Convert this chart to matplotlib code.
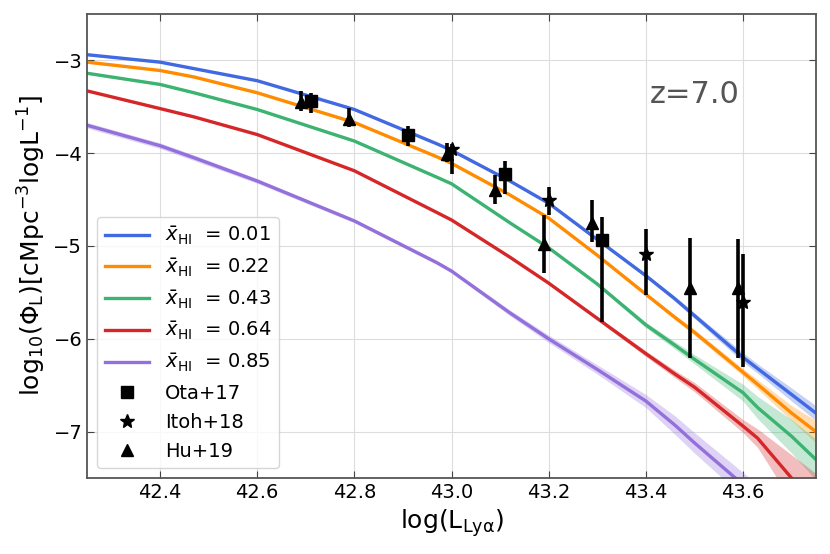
import numpy as np
import matplotlib
matplotlib.use('Agg')
import matplotlib.pyplot as plt

# model grid (log L_Lya) shared by all curves
logL_model = [42.25, 42.4, 42.47, 42.6, 42.8, 42.97, 43.0, 43.12, 43.2, 43.3,
              43.4, 43.46, 43.5, 43.6, 43.63, 43.7, 43.75]

# log10 Phi for each neutral fraction
phi_001 = [-2.94, -3.02, -3.09, -3.22, -3.53, -3.90, -3.97, -4.30, -4.54, -4.93,
           -5.32, -5.57, -5.75, -6.20, -6.32, -6.60, -6.80]
phi_022 = [-3.02, -3.11, -3.18, -3.35, -3.67, -4.04, -4.11, -4.45, -4.70, -5.10,
           -5.52, -5.77, -5.93, -6.36, -6.49, -6.80, -7.00]
phi_043 = [-3.14, -3.26, -3.35, -3.53, -3.87, -4.26, -4.33, -4.75, -5.02, -5.41,
           -5.85, -6.07, -6.22, -6.58, -6.74, -7.05, -7.30]
phi_064 = [-3.33, -3.52, -3.61, -3.80, -4.19, -4.64, -4.72, -5.12, -5.40, -5.78,
           -6.16, -6.38, -6.52, -6.94, -7.07, -7.50, -7.80]
phi_085 = [-3.70, -3.92, -4.05, -4.30, -4.73, -5.18, -5.27, -5.72, -6.00, -6.33,
           -6.67, -6.93, -7.12, -7.57, -7.70, -8.00, -8.20]

# half width of the shaded scatter band
band_001 = [0.01, 0.01, 0.01, 0.01, 0.01, 0.01, 0.01, 0.01, 0.01, 0.015,
            0.02, 0.025, 0.03, 0.05, 0.05, 0.07, 0.08]
band_022 = [0.01, 0.01, 0.01, 0.01, 0.01, 0.01, 0.01, 0.01, 0.01, 0.015,
            0.02, 0.025, 0.03, 0.04, 0.05, 0.08, 0.12]
band_043 = [0.01, 0.01, 0.01, 0.01, 0.01, 0.01, 0.01, 0.015, 0.015, 0.02,
            0.03, 0.04, 0.05, 0.09, 0.12, 0.18, 0.22]
band_064 = [0.01, 0.01, 0.01, 0.01, 0.01, 0.01, 0.01, 0.015, 0.015, 0.02,
            0.03, 0.04, 0.05, 0.07, 0.10, 0.25, 0.35]
band_085 = [0.03, 0.03, 0.03, 0.025, 0.02, 0.02, 0.02, 0.03, 0.04, 0.05,
            0.07, 0.10, 0.11, 0.13, 0.13, 0.13, 0.13]

xhi_labels = ['0.01', '0.22', '0.43', '0.64', '0.85']
colors = ['royalblue', 'darkorange', 'mediumseagreen', '#d62728', 'mediumpurple']

# observations: x, y, lower bound, upper bound
ota_x = [42.71, 42.91, 43.11, 43.31]
ota_y = [-3.44, -3.80, -4.23, -4.94]
ota_lo = [-3.57, -3.92, -4.44, -5.82]
ota_hi = [-3.35, -3.71, -4.08, -4.69]

itoh_x = [43.0, 43.2, 43.4, 43.6]
itoh_y = [-3.96, -4.51, -5.09, -5.60]
itoh_lo = [-4.23, -4.67, -5.53, -6.30]
itoh_hi = [-3.90, -4.36, -4.82, -5.09]

hu_x = [42.69, 42.79, 42.99, 43.09, 43.19, 43.29, 43.49, 43.59]
hu_y = [-3.45, -3.63, -4.01, -4.40, -4.98, -4.75, -5.45, -5.45]
hu_lo = [-3.55, -3.72, -4.10, -4.55, -5.29, -4.96, -6.21, -6.21]
hu_hi = [-3.33, -3.51, -3.89, -4.24, -4.67, -4.51, -4.91, -4.93]

fig = plt.figure(figsize=(8.3, 5.54), dpi=100)
ax = fig.add_axes([0.105, 0.137, 0.878, 0.838])

x = np.array(logL_model)
curves = [phi_001, phi_022, phi_043, phi_064, phi_085]
bands = [band_001, band_022, band_043, band_064, band_085]
for y, b, c, lab in zip(curves, bands, colors, xhi_labels):
    y = np.array(y)
    b = np.array(b)
    ax.fill_between(x, y - b, y + b, color=c, alpha=0.3, lw=0)
    ax.plot(x, y, color=c, lw=2.4, label=r'$\bar{x}_{\rm HI}$  = ' + lab)

obs = [(ota_x, ota_y, ota_lo, ota_hi, 's', 8, 'Ota+17'),
       (itoh_x, itoh_y, itoh_lo, itoh_hi, '*', 10, 'Itoh+18'),
       (hu_x, hu_y, hu_lo, hu_hi, '^', 9, 'Hu+19')]
for ox, oy, lo, hi, m, ms, lab in obs:
    oy = np.array(oy)
    yerr = [oy - np.array(lo), np.array(hi) - oy]
    ax.errorbar(ox, oy, yerr=yerr, fmt='none', ecolor='k', elinewidth=2.6,
                capsize=0, zorder=5)
    ax.plot(ox, oy, ls='none', marker=m, ms=ms, color='k', zorder=6, label=lab)

ax.set_xlim(42.25, 43.75)
ax.set_ylim(-7.5, -2.5)
ax.set_xticks([42.4, 42.6, 42.8, 43.0, 43.2, 43.4, 43.6])
ax.set_yticks([-7, -6, -5, -4, -3])
ax.grid(True, color='#dddddd', lw=0.8)
ax.set_axisbelow(True)
ax.tick_params(direction='in', top=True, right=True, labelsize=14,
               length=5, color='#444444')
for s in ax.spines.values():
    s.set_color('#555555')
    s.set_linewidth(1.3)

ax.set_xlabel(r'log(L$_{\rm Ly\alpha}$)', fontsize=18)
ax.set_ylabel(r'log$_{10}$($\Phi_{\rm L}$)[cMpc$^{-3}$logL$^{-1}$]', fontsize=18)
ax.text(0.833, 0.826, 'z=7.0', transform=ax.transAxes, ha='center',
        va='center', fontsize=22, color='#555555')

ax.legend(loc='lower left', fontsize=14, handlelength=2.3, framealpha=0.8)

fig.savefig('out.png', dpi=100)
